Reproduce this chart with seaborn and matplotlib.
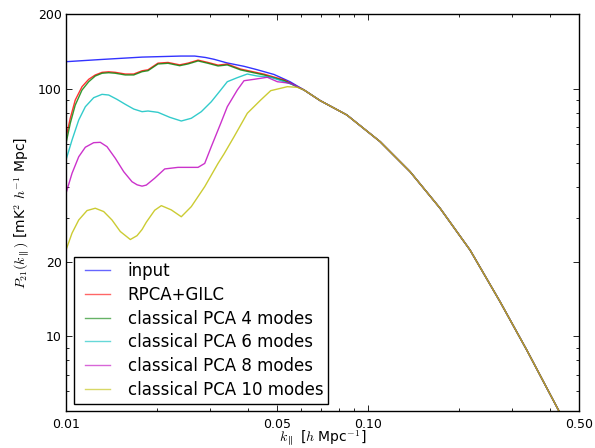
import numpy as np
import pandas as pd
import matplotlib
matplotlib.use("Agg")
import matplotlib.pyplot as plt
import seaborn as sns
from matplotlib.ticker import FixedLocator, FixedFormatter, NullFormatter, LogLocator

labels = ["input", "RPCA+GILC", "classical PCA 4 modes", "classical PCA 6 modes",
          "classical PCA 8 modes", "classical PCA 10 modes"]
colors = ["#0000ff", "#ff0000", "#008000", "#00bfbf", "#bf00bf", "#bfbf00"]

# shared high-k tail (all curves coincide)
tail_k = [0.06143, 0.0694, 0.0851, 0.1097, 0.1379, 0.1733, 0.2179, 0.2739, 0.3357, 0.4272, 0.50]
tail_p = [98.7, 89.5, 78.3, 61.1, 46.2, 32.9, 22.3, 13.8, 8.81, 5.05, 3.5]

k_input = [0.0100, 0.0130, 0.01786, 0.0240, 0.02669, 0.0290, 0.03092, 0.0341, 0.03886,
           0.04282, 0.04887, 0.05521]
p_input = [128.4, 131.0, 134.0, 135.3, 135.3, 133.5, 131.3, 127.0, 123.0,
           119.3, 114.0, 106.6]

k_rpca = [0.0100, 0.01033, 0.01073, 0.01130, 0.01189, 0.01250, 0.01316, 0.01385, 0.01457,
          0.01572, 0.01676, 0.01786, 0.01869, 0.02017, 0.02177, 0.02379, 0.02535, 0.02737,
          0.02953, 0.03188, 0.03421, 0.03790, 0.04526, 0.05274]
p_rpca = [63.6, 75.9, 89.9, 101.8, 109.0, 113.5, 116.3, 116.9, 116.3,
          114.5, 114.5, 118.0, 119.1, 126.7, 127.5, 124.7, 126.7, 130.3,
          127.5, 124.4, 125.6, 119.9, 114.4, 108.4]

k_pca4 = [0.0100, 0.01033, 0.01073, 0.01130, 0.01189, 0.01250, 0.01316, 0.01385, 0.01457,
          0.01572, 0.01676, 0.01786, 0.01869, 0.02017, 0.02177, 0.02379, 0.02535, 0.02737,
          0.02953, 0.03188, 0.03421, 0.03790, 0.04526, 0.05274]
p_pca4 = [60.1, 72.4, 85.8, 98.7, 106.6, 112.4, 115.3, 115.9, 115.3,
          113.5, 113.5, 117.0, 118.1, 125.7, 126.5, 123.7, 125.7, 129.3,
          126.5, 123.4, 124.6, 118.9, 113.5, 107.6]

k_pca6 = [0.0100, 0.01047, 0.01102, 0.01159, 0.01235, 0.01316, 0.01385, 0.01475, 0.01572,
          0.01676, 0.01786, 0.01869, 0.02017, 0.02205, 0.02409, 0.02600, 0.02806, 0.03028,
          0.03254, 0.03421, 0.03693, 0.03985, 0.04301, 0.04764, 0.05274, 0.05691]
p_pca6 = [51.5, 62.0, 74.7, 84.5, 91.9, 94.8, 94.2, 90.5, 86.4,
          82.7, 80.7, 81.2, 80.2, 76.6, 74.0, 75.9, 80.7, 88.5,
          98.7, 106.6, 110.7, 114.5, 112.4, 111.1, 106.6, 103.4]

k_pca8 = [0.0100, 0.01047, 0.01102, 0.01159, 0.01235, 0.01299, 0.01367, 0.01457, 0.01553,
          0.01654, 0.01720, 0.01786, 0.01845, 0.01967, 0.02123, 0.02349, 0.02737, 0.02880,
          0.03028, 0.03254, 0.03421, 0.03693, 0.03886, 0.04194, 0.04642, 0.05012, 0.05550]
p_pca8 = [37.8, 45.5, 53.1, 58.0, 60.5, 60.7, 58.3, 52.3, 46.2,
          42.1, 40.9, 40.4, 40.8, 43.5, 47.4, 48.1, 48.1, 49.9,
          58.3, 72.4, 84.5, 98.7, 107.6, 109.0, 111.1, 106.6, 105.0]

k_pca10 = [0.0100, 0.01047, 0.01102, 0.01174, 0.01250, 0.01333, 0.01420, 0.01513, 0.01633,
           0.01719, 0.01786, 0.01845, 0.01967, 0.02069, 0.02232, 0.02409, 0.02600, 0.02880,
           0.03188, 0.03337, 0.03601, 0.03985, 0.04413, 0.04764, 0.05143, 0.05408, 0.05836]
p_pca10 = [22.3, 26.1, 29.5, 32.2, 32.9, 31.9, 29.5, 26.5, 24.6,
           25.5, 27.0, 28.9, 32.3, 33.7, 32.4, 30.4, 33.4, 40.2,
           49.9, 54.5, 63.9, 79.5, 89.9, 98.1, 100.3, 101.8, 101.2]

series_k = [k_input, k_rpca, k_pca4, k_pca6, k_pca8, k_pca10]
series_p = [p_input, p_rpca, p_pca4, p_pca6, p_pca8, p_pca10]

rows = []
for lab, ks, ps in zip(labels, series_k, series_p):
    for kv, pv in zip(list(ks) + tail_k, list(ps) + tail_p):
        rows.append({"k": kv, "P": pv, "series": lab})
df = pd.DataFrame(rows)

plt.rcParams["mathtext.fontset"] = "cm"
plt.rcParams["font.family"] = ["DejaVu Sans"]

fig = plt.figure(figsize=(5.95, 4.48), dpi=100)
ax = fig.add_axes([66 / 595, 1 - 411 / 448, (579 - 66) / 595, (411 - 14) / 448])

sns.lineplot(data=df, x="k", y="P", hue="series", hue_order=labels,
             palette=dict(zip(labels, colors)), estimator=None, sort=False,
             linewidth=1.0, alpha=0.8, ax=ax, legend=True)

ax.set_xscale("log")
ax.set_yscale("log")
ax.set_xlim(0.01, 0.5)
ax.set_ylim(5, 200)

xt = [0.01, 0.05, 0.1, 0.5]
xtl = ["0.01", "0.05", "0.10", "0.50"]
yt = [10, 20, 100, 200]
ytl = ["10", "20", "100", "200"]
ax.xaxis.set_major_locator(FixedLocator(xt))
ax.xaxis.set_major_formatter(FixedFormatter(xtl))
ax.yaxis.set_major_locator(FixedLocator(yt))
ax.yaxis.set_major_formatter(FixedFormatter(ytl))
ax.xaxis.set_minor_locator(LogLocator(base=10, subs=np.arange(2, 10)))
ax.yaxis.set_minor_locator(LogLocator(base=10, subs=np.arange(2, 10)))
ax.xaxis.set_minor_formatter(NullFormatter())
ax.yaxis.set_minor_formatter(NullFormatter())

ax.tick_params(which="both", direction="in", top=True, right=True, colors="black",
               width=0.6, labelsize=9)
ax.tick_params(which="major", length=4)
ax.tick_params(which="minor", length=2)
ax.tick_params(axis="x", pad=5)
ax.tick_params(axis="y", pad=3)
for s in ax.spines.values():
    s.set_color("black")
    s.set_linewidth(1.0)

ax.set_xlabel(r"$k_\parallel$ [$h$ Mpc$^{-1}$]", fontsize=10, labelpad=-1.5)
ax.set_ylabel(r"$P_{21}(k_\parallel)$ [mK$^2$ $h^{-1}$ Mpc]", fontsize=10)

handles, hl = ax.get_legend_handles_labels()
leg = ax.legend(handles, hl, loc="lower left", fontsize=12, frameon=True, fancybox=False,
                edgecolor="black", framealpha=1.0, handlelength=1.9, handletextpad=1.05,
                borderaxespad=0.45, labelspacing=0.34, borderpad=0.3)
leg.get_frame().set_linewidth(1.0)
for lh in leg.get_lines():
    lh.set_linewidth(1.0)
    lh.set_alpha(0.6)
    xd = np.asarray(lh.get_xdata(), dtype=float)
    if xd.size >= 2:
        x0, x1 = xd.min(), xd.max()
        lh.set_xdata(np.linspace(x0 + 0.22 * (x1 - x0), x1, xd.size))

fig.savefig("out.png", dpi=100)
